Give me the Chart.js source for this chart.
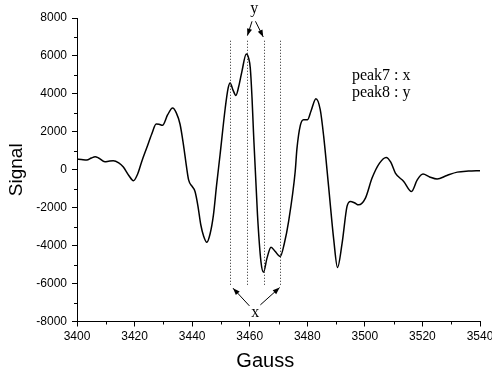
<!DOCTYPE html>
<html>
<head>
<meta charset="utf-8">
<script src="https://cdn.jsdelivr.net/npm/chart.js@4/dist/chart.umd.min.js"></script>
<style>
html,body{margin:0;padding:0;background:#fff;}
#wrap{width:492px;height:376px;position:relative;}
</style>
</head>
<body>
<div id="wrap"><canvas id="c"></canvas></div>
<script>
// ---- data ----
const gauss = [3400,3401.5,3403.4,3405,3406.3,3407.5,3409.7,3411,3412.6,3414.5,3416.1,3418,3419.6,3421,3422.5,3424.2,3426,3427.5,3428.5,3429.7,3431.5,3433.2,3434.5,3435.8,3437,3438,3438.8,3440,3441,3442,3443,3444,3445.1,3446.2,3447.4,3448.5,3449.7,3451.5,3452.5,3453.2,3454.2,3455.2,3456.2,3457.3,3458.8,3459.6,3460.2,3460.8,3461.3,3462.7,3463.9,3464.8,3466,3467.4,3468.8,3470.6,3472,3473.5,3475.8,3476.4,3477.6,3478.7,3480.1,3481.3,3483,3484.5,3485.7,3487.4,3489.2,3490.5,3492.1,3493.8,3495,3496.5,3497.8,3500.2,3502.5,3505.1,3507.4,3509,3510.6,3513.5,3516.2,3518.2,3520.2,3522.5,3525.1,3528.5,3532.1,3536,3540];
const signal = [565,540,510,620,686,620,422,450,475,360,140,-300,-580,-250,440,1145,1900,2410,2400,2340,2900,3255,3000,2400,1300,200,-550,-880,-1150,-1900,-2900,-3500,-3820,-3400,-2375,-800,790,3255,4300,4575,4200,3920,4400,5190,6105,5900,5365,3800,2020,-2375,-4840,-5400,-4660,-4080,-4300,-4575,-3900,-2730,-90,1100,2350,2640,2640,3100,3745,3170,1760,-880,-3700,-5150,-3870,-1935,-1670,-1750,-1850,-1495,-440,350,650,400,-175,-615,-1145,-530,-230,-380,-490,-300,-125,-70,-50];
const xTicks = [3400,3420,3440,3460,3480,3500,3520,3540];
const yTicks = [-8000,-6000,-4000,-2000,0,2000,4000,6000,8000];
const xMinorTicks = [3410,3430,3450,3470,3490,3510,3530];
const yMinorTicks = [-7000,-5000,-3000,-1000,1000,3000,5000,7000];
// annotation: dotted marker lines (x) and their vertical extent (y)
const markerX = [3453.2, 3459.0, 3465.0, 3470.6];
const markerY = [-6070, 6800];
const legendLines = ['peak7 : x', 'peak8 : y'];
const legendAnchor = [3495.5, 4712, 3836]; // x, y line1, y line2
const yLabelAnchor = [3461.6, 8285];
const xLabelAnchor = [3461.9, -7757];
const yArrows = [[3460.8, 7826, 3459.2, 7071],[3462.0, 7826, 3464.7, 7003]];
const xArrows = [[3459.9, -7177, 3454.2, -6243],[3463.7, -7124, 3470.4, -6211]];
const xTitleAnchor = 3465.4;

const pts = gauss.map((g,i)=>({x:g, y:signal[i]}));

function arrow(ctx, x1,y1,x2,y2){
  ctx.beginPath(); ctx.moveTo(x1,y1); ctx.lineTo(x2,y2); ctx.stroke();
  const a = Math.atan2(y2-y1, x2-x1), L=7, W=2.6;
  ctx.beginPath();
  ctx.moveTo(x2,y2);
  ctx.lineTo(x2-L*Math.cos(a)+W*Math.sin(a), y2-L*Math.sin(a)-W*Math.cos(a));
  ctx.lineTo(x2-L*Math.cos(a)-W*Math.sin(a), y2-L*Math.sin(a)+W*Math.cos(a));
  ctx.closePath(); ctx.fill();
}

const annot = {
  id:'annot',
  afterDraw(chart){
    const ctx = chart.ctx, xs = chart.scales.x, ys = chart.scales.y;
    ctx.save();
    // minor ticks
    ctx.strokeStyle='#000'; ctx.lineWidth=1;
    const b = ys.bottom, l = xs.left;
    xMinorTicks.forEach(v=>{const p=Math.round(xs.getPixelForValue(v))+0.5; ctx.beginPath(); ctx.moveTo(p,b); ctx.lineTo(p,b+3); ctx.stroke();});
    yMinorTicks.forEach(v=>{const p=Math.round(ys.getPixelForValue(v))+0.5; ctx.beginPath(); ctx.moveTo(l-3,p); ctx.lineTo(l,p); ctx.stroke();});
    // dotted markers
    ctx.setLineDash([1,2]); ctx.strokeStyle='#222';
    markerX.forEach(v=>{const p=Math.round(xs.getPixelForValue(v))+0.5; ctx.beginPath(); ctx.moveTo(p,ys.getPixelForValue(markerY[1])); ctx.lineTo(p,ys.getPixelForValue(markerY[0])); ctx.stroke();});
    ctx.setLineDash([]);
    // arrows
    ctx.strokeStyle='#000'; ctx.fillStyle='#000'; ctx.lineWidth=1;
    yArrows.concat(xArrows).forEach(a=>arrow(ctx, xs.getPixelForValue(a[0]), ys.getPixelForValue(a[1]), xs.getPixelForValue(a[2]), ys.getPixelForValue(a[3])));
    // labels
    ctx.font='16px "Liberation Serif", "Times New Roman", serif';
    ctx.textBaseline='alphabetic';
    ctx.textAlign='center';
    ctx.fillText('y', xs.getPixelForValue(yLabelAnchor[0]), ys.getPixelForValue(yLabelAnchor[1]));
    ctx.fillText('x', xs.getPixelForValue(xLabelAnchor[0]), ys.getPixelForValue(xLabelAnchor[1]));
    ctx.textAlign='left';
    ctx.fillText(legendLines[0], xs.getPixelForValue(legendAnchor[0]), ys.getPixelForValue(legendAnchor[1]));
    ctx.fillText(legendLines[1], xs.getPixelForValue(legendAnchor[0]), ys.getPixelForValue(legendAnchor[2]));
    // x title
    ctx.font='20px "Liberation Sans", Arial, sans-serif';
    ctx.textAlign='center'; ctx.textBaseline='middle';
    ctx.fillText('Gauss', xs.getPixelForValue(xTitleAnchor), 361);
    ctx.restore();
  }
};

new Chart(document.getElementById('c'), {
  type:'line',
  data:{datasets:[{data:pts, borderColor:'#000', borderWidth:1.5, pointRadius:0, cubicInterpolationMode:'monotone', fill:false}]},
  options:{
    responsive:true, maintainAspectRatio:false, animation:false,
    layout:{padding:{left:0, top:18, right:12, bottom:0}},
    plugins:{legend:{display:false}, tooltip:{enabled:false}},
    scales:{
      x:{type:'linear', min:3400, max:3540,
        afterBuildTicks:s=>{s.ticks = xTicks.map(v=>({value:v}));},
        afterFit:s=>{s.height=54.5; s.paddingLeft=0; s.paddingRight=0;},
        border:{color:'#000', width:1},
        grid:{display:true, drawOnChartArea:false, drawTicks:true, tickLength:5, color:'#000'},
        ticks:{color:'#000', padding:3, maxRotation:0, callback:v=>String(v), font:{family:'"Liberation Sans", Arial, sans-serif', size:12}}
      },
      y:{type:'linear', min:-8000, max:8000,
        afterBuildTicks:s=>{s.ticks = yTicks.map(v=>({value:v}));},
        afterFit:s=>{s.width=77; s.paddingTop=0; s.paddingBottom=0;},
        border:{color:'#000', width:1},
        grid:{display:true, drawOnChartArea:false, drawTicks:true, tickLength:5, color:'#000'},
        ticks:{color:'#000', padding:5, callback:v=>String(v), font:{family:'"Liberation Sans", Arial, sans-serif', size:12}},
        title:{display:true, text:'Signal', color:'#000', padding:{top:5,bottom:0}, font:{family:'"Liberation Sans", Arial, sans-serif', size:19}}
      }
    }
  },
  plugins:[annot]
});
</script>
</body>
</html>
